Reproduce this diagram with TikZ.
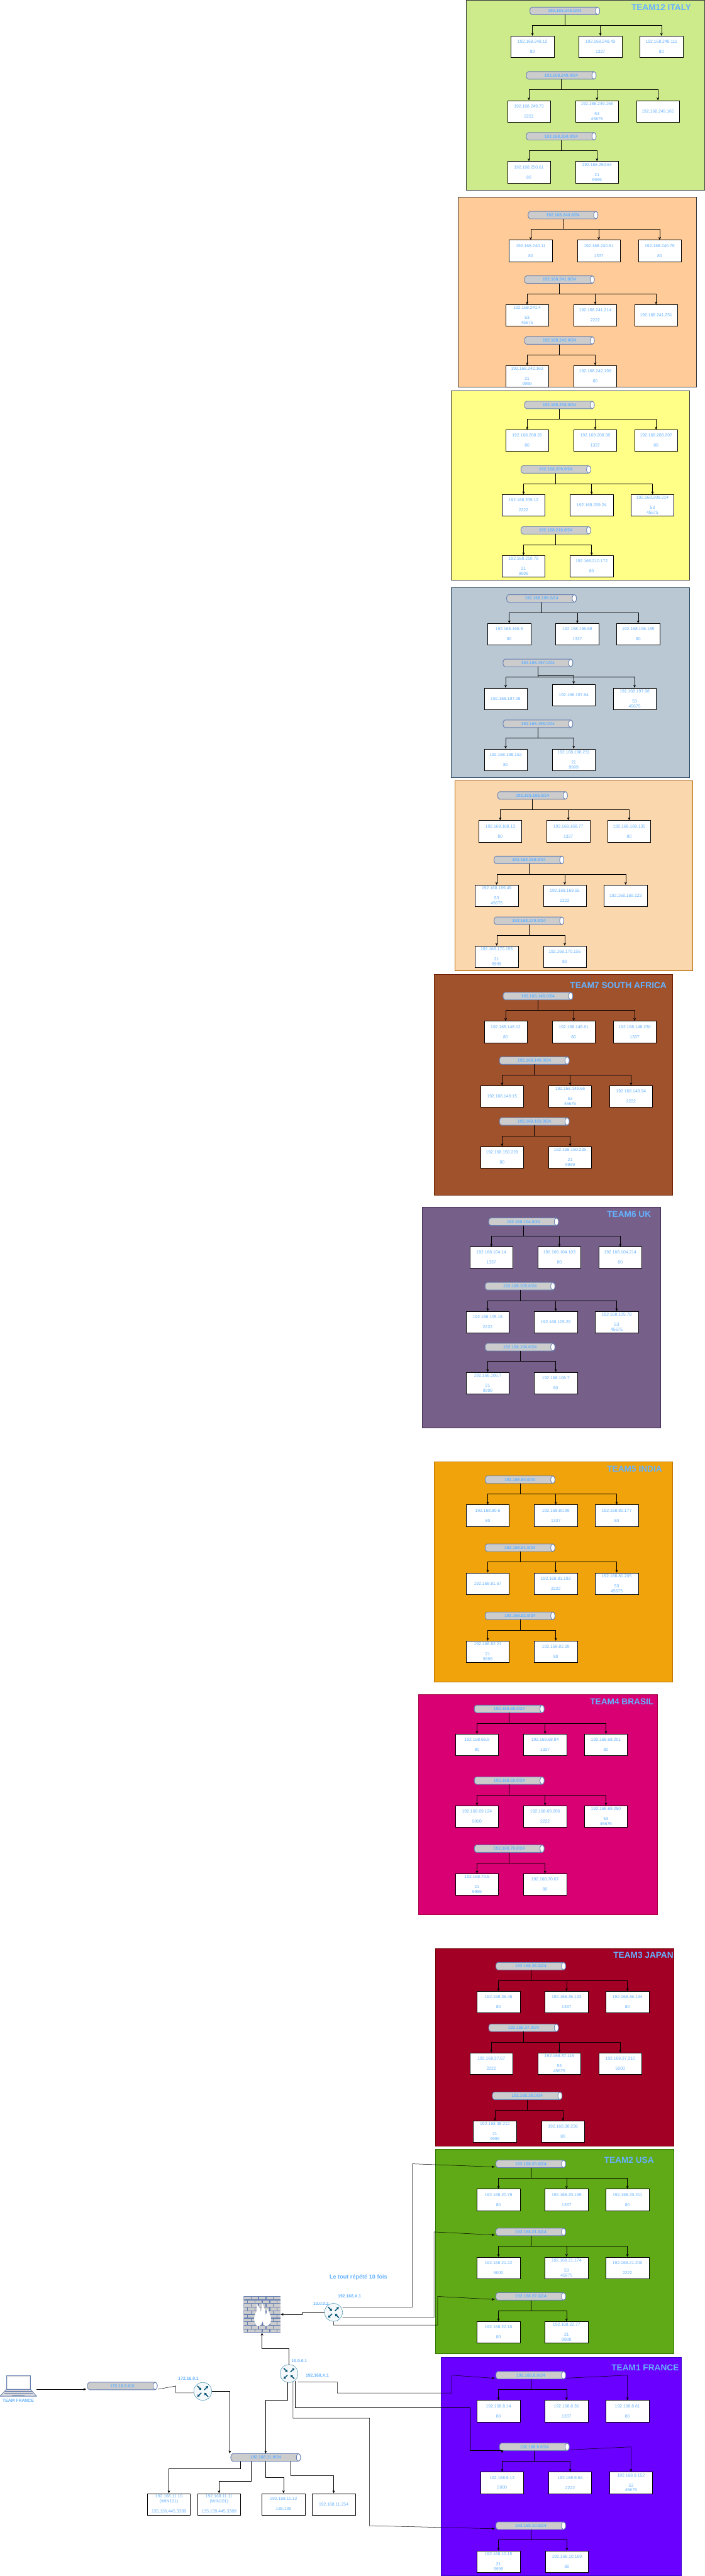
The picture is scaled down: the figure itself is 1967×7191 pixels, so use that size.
\documentclass[tikz,border=0pt]{standalone}
\usepackage{fontspec}
\setmainfont{Liberation Sans}
\usetikzlibrary{arrows.meta}
\definecolor{txt}{HTML}{66B2FF}
\definecolor{pipeline}{HTML}{6881B3}
\definecolor{pipefill}{HTML}{CCCCCC}
\definecolor{routerline}{HTML}{10739E}
\definecolor{routericon}{HTML}{005073}
\tikzset{
 conn/.style={draw=black,line width=.9pt},
 arr/.style={conn,-{Stealth[length=8pt,width=7pt]}},
 hostbox/.style={draw=black,fill=white,line width=.9pt,minimum width=120pt,minimum height=60pt,inner sep=0pt,align=center,text=txt,font=\fontsize{12}{14}\selectfont},
 pipelabel/.style={minimum width=195pt,minimum height=21pt,inner sep=0pt,text=txt,font=\bfseries\fontsize{12}{14}\selectfont},
 title/.style={text=txt,inner sep=0pt,font=\bfseries\fontsize{24}{28}\selectfont},
 addr/.style={text=txt,inner sep=0pt,font=\bfseries\fontsize{12}{14}\selectfont},
 routernode/.style={circle,draw=routerline,fill=white!96!routerline,line width=.7pt,minimum size=50pt,inner sep=0pt},
 routerarrow/.style={draw=routericon,line width=2.6pt,-{Triangle[length=6pt,width=7.5pt]}},
}
\newcommand\panel[6]{\definecolor{pf}{HTML}{#1}\definecolor{ps}{HTML}{#2}\draw[fill=pf,draw=ps,line width=1pt] (#3,#4) rectangle (#5,#6);}
\newcommand\netw[4]{%
 \begin{scope}[shift={(#2,#3)}]
 \draw[fill=pipefill,draw=pipeline,line width=1.6pt] (-91.7,-10.5) -- (91.7,-10.5) .. controls (99.4,-10.5) and (99.4,10.5) .. (91.7,10.5) -- (-91.7,10.5) .. controls (-99.4,10.5) and (-99.4,-10.5) .. (-91.7,-10.5) -- cycle;
 \draw[fill=white,draw=pipeline,line width=1.6pt] (91.7,0) ellipse[x radius=5.8,y radius=10.5];
 \node[pipelabel] (#1) at (0,0) {#4};
 \end{scope}}
\newcommand\hostnode[4]{\node[hostbox] (#1) at (#2,#3+30) {#4};}
\newcommand\host[6][29]{\hostnode{#3}{#4}{#5}{#6}\draw[arr] (#2.south) -- ++(0,#1) -| (#3.north);}
\newcommand\router[3]{%
 \node[routernode] (#1) at (#2,#3) {};
 \begin{scope}[shift={(#2,#3)}]
 \draw[routerarrow] (-15,-15) -- (-4,-4);
 \draw[routerarrow] (4,-4) -- (15,-15);
 \draw[routerarrow] (-4,4) -- (-15,15);
 \draw[routerarrow] (15,15) -- (4,4);
 \end{scope}}
\begin{document}
\begin{tikzpicture}[x=1pt,y=-1pt]
\useasboundingbox (0,0) rectangle (1967,7191);
\fill[white] (0,0) rectangle (1967,7191);
% ---- panels
\panel{CDEB8B}{36393D}{1301}{0}{1966.5}{530}
\panel{FFCC99}{36393D}{1279}{550}{1944}{1080}
\panel{FFFF88}{36393D}{1259}{1090}{1924}{1620}
\panel{BAC8D3}{23445D}{1259}{1640}{1924}{2170}
\panel{FAD7AC}{B46504}{1269}{2180}{1934}{2710}
\panel{A0522D}{6D1F00}{1211.5}{2720}{1876.5}{3335.5}
\panel{76608A}{432D57}{1178.5}{3370}{1844.5}{3985.5}
\panel{F0A30A}{BD7000}{1211.5}{4080}{1876.5}{4695.5}
\panel{D80073}{A50040}{1168.5}{4730.5}{1834.5}{5345}
\panel{A20025}{6F0000}{1216}{5438.5}{1881.5}{5990.5}
\panel{60A917}{2D7600}{1216}{6000}{1881.5}{6570.5}
\panel{6A00FF}{3700CC}{1231.5}{6580}{1901.5}{7190.5}
% ---- titles
\node[title] (tItaly) at (1846,20.7) {TEAM12 ITALY};
\node[title] (tSA) at (1726,2750.6) {TEAM7 SOUTH AFRICA};
\node[title] (tUK) at (1756,3390.5) {TEAM6 UK};
\node[title] (tIndia) at (1771.5,4100.6) {TEAM5 INDIA};
\node[title] (tBrasil) at (1736,4750.5) {TEAM4 BRASIL};
\node[title] (tJapan) at (1796,5458.6) {TEAM3 JAPAN};
\node[title] (tUSA) at (1756,6030.5) {TEAM2 USA};
\node[title] (tFrance) at (1801,6610) {TEAM1 FRANCE};
% ---- ITALY
\netw{n248}{1576.5}{30.5}{192.168.248.0/24}
\host{n248}{h248a}{1486.5}{100.5}{192.168.248.12\\~\\80}
\host{n248}{h248b}{1676}{100.5}{192.168.248.43\\~\\1337}
\host{n248}{h248c}{1846.5}{100.5}{192.168.248.111\\~\\80}
\netw{n249}{1566.5}{210.5}{192.168.249.0/24}
\host{n249}{h249a}{1476.5}{280.5}{192.168.249.73\\~\\2222}
\host{n249}{h249b}{1666.5}{280.5}{192.168.249.156\\~\\53\\45675}
\host{n249}{h249c}{1836.5}{280.5}{192.168.249.165}
\netw{n250}{1566.5}{380.5}{192.168.250.0/24}
\host{n250}{h250a}{1476.5}{450.5}{192.168.250.61\\~\\80}
\host{n250}{h250b}{1666.5}{450.5}{192.168.250.64\\~\\21\\9999}
% ---- orange
\netw{n240}{1571.5}{600.5}{192.168.240.0/24}
\host{n240}{h240a}{1481.5}{670}{192.168.240.11\\~\\80}
\host{n240}{h240b}{1671.5}{670}{192.168.240.61\\~\\1337}
\host{n240}{h240c}{1841.5}{670}{192.168.240.79\\~\\80}
\netw{n241}{1561.5}{780.5}{192.168.241.0/24}
\host{n241}{h241a}{1471.5}{850.5}{192.168.241.4\\~\\53\\45675}
\host{n241}{h241b}{1661.5}{850.5}{192.168.241.214\\~\\2222}
\host{n241}{h241c}{1831.5}{850.5}{192.168.241.251}
\netw{n242}{1561.5}{950.5}{192.168.242.0/24}
\host{n242}{h242a}{1471.5}{1020.5}{192.168.242.163\\~\\21\\9999}
\host{n242}{h242b}{1661.5}{1020.5}{192.168.242.199\\~\\80}
% ---- yellow
\netw{n208}{1561.5}{1130.5}{192.168.208.0/24}
\host{n208}{h208a}{1471.5}{1200}{192.168.208.26\\~\\80}
\host{n208}{h208b}{1661.5}{1200}{192.168.208.38\\~\\1337}
\host{n208}{h208c}{1831.5}{1200}{192.168.208.207\\~\\80}
\netw{n209}{1551.5}{1310.5}{192.168.209.0/24}
\host{n209}{h209a}{1461.5}{1380.5}{192.168.209.12\\~\\2222}
\host{n209}{h209b}{1651.5}{1380.5}{192.168.209.24}
\host{n209}{h209c}{1821.5}{1380.5}{192.168.209.214\\~\\53\\45675}
\netw{n210}{1551.5}{1480.5}{192.168.210.0/24}
\host{n210}{h210a}{1461.5}{1550.5}{192.168.210.79\\~\\21\\9999}
\host{n210}{h210b}{1651.5}{1550.5}{192.168.210.172\\~\\80}
% ---- blue-grey
\netw{n196}{1511.5}{1670.5}{192.168.196.0/24}
\host{n196}{h196a}{1421.5}{1740.5}{192.168.196.9\\~\\80}
\host{n196}{h196b}{1611.5}{1740.5}{192.168.196.68\\~\\1337}
\host{n196}{h196c}{1781.5}{1740.5}{192.168.196.185\\~\\80}
\netw{n197}{1501.5}{1850.5}{192.168.197.0/24}
\host{n197}{h197a}{1411.5}{1920.5}{192.168.197.28}
\host[25]{n197}{h197b}{1601.5}{1910}{192.168.197.64}
\host{n197}{h197c}{1771.5}{1920.5}{192.168.197.98\\~\\53\\45675}
\netw{n198}{1501.5}{2020.5}{192.168.198.0/24}
\host{n198}{h198a}{1411.5}{2090.5}{192.168.198.152\\~\\80}
\host{n198}{h198b}{1601.5}{2090.5}{192.168.198.231\\~\\21\\9999}
% ---- peach
\netw{n168}{1486.5}{2220.5}{192.168.168.0/24}
\host{n168}{h168a}{1396.5}{2290.5}{192.168.168.13\\~\\80}
\host{n168}{h168b}{1586.5}{2290.5}{192.168.168.77\\~\\1337}
\host{n168}{h168c}{1756.5}{2290.5}{192.168.168.135\\~\\80}
\netw{n169}{1476.5}{2400.5}{192.168.169.0/24}
\host{n169}{h169a}{1386.5}{2470.5}{192.168.169.49\\~\\53\\45675}
\host{n169}{h169b}{1576.5}{2470.5}{192.168.169.55\\~\\2222}
\host{n169}{h169c}{1746.5}{2470.5}{192.168.169.123}
\netw{n170}{1476.5}{2570.5}{192.168.170.0/24}
\host{n170}{h170a}{1386.5}{2640.5}{192.168.170.155\\~\\21\\9999}
\host{n170}{h170b}{1576.5}{2640.5}{192.168.170.156\\~\\80}
% ---- brown
\netw{n148}{1501.5}{2780.5}{192.168.148.0/24}
\host{n148}{h148a}{1411.5}{2850.5}{192.168.148.12\\~\\80}
\host{n148}{h148b}{1601.5}{2850.5}{192.168.148.61\\~\\80}
\host{n148}{h148c}{1771.5}{2850.5}{192.168.148.230\\~\\1337}
\netw{n149}{1491.5}{2960.5}{192.168.149.0/24}
\host{n149}{h149a}{1401.5}{3030.5}{192.168.149.15}
\host{n149}{h149b}{1591.5}{3030.5}{192.168.149.66\\~\\53\\45675}
\host{n149}{h149c}{1761.5}{3030.5}{192.168.149.94\\~\\2222}
\netw{n150}{1491.5}{3130.5}{192.168.150.0/24}
\host{n150}{h150a}{1401.5}{3200.5}{192.168.150.229\\~\\80}
\host{n150}{h150b}{1591.5}{3200.5}{192.168.150.235\\~\\21\\9999}
% ---- UK
\netw{n104}{1461.5}{3410.5}{192.168.104.0/24}
\host{n104}{h104a}{1371.5}{3480.5}{192.168.104.14\\~\\1337}
\host{n104}{h104b}{1561.5}{3480.5}{192.168.104.103\\~\\80}
\host{n104}{h104c}{1731.5}{3480.5}{192.168.104.214\\~\\80}
\netw{n105}{1451.5}{3590.5}{192.168.105.0/24}
\host{n105}{h105a}{1361.5}{3660.5}{192.168.105.16\\~\\2222}
\host{n105}{h105b}{1551.5}{3660.5}{192.168.105.29}
\host{n105}{h105c}{1721.5}{3660.5}{192.168.105.78\\~\\53\\45675}
% UNVERIFIED: no crop of this row was available. The network label is inferred from
% the sequence; the host octets could not be read and are marked "?"; the port lines
% are assumed from the layout and the pattern of the other teams.
\netw{n106}{1451.5}{3760.5}{192.168.106.0/24}
\host{n106}{h106a}{1361.5}{3830.5}{192.168.106.?\\~\\21\\9999}
\host{n106}{h106b}{1551.5}{3830.5}{192.168.106.?\\~\\80}
% ---- India
\netw{n80}{1451.5}{4130.5}{192.168.80.0/24}
\host{n80}{h80a}{1361.5}{4200.5}{192.168.80.6\\~\\80}
\host{n80}{h80b}{1551.5}{4200.5}{192.168.80.99\\~\\1337}
\host{n80}{h80c}{1721.5}{4200.5}{192.168.80.177\\~\\80}
\netw{n81}{1451.5}{4320.5}{192.168.81.0/24}
\host{n81}{h81a}{1361.5}{4390.5}{192.168.81.67}
\host{n81}{h81b}{1551.5}{4390.5}{192.168.81.193\\~\\2222}
\host{n81}{h81c}{1721.5}{4390.5}{192.168.81.205\\~\\53\\45675}
\netw{n82}{1451.5}{4510.5}{192.168.82.0/24}
\host{n82}{h82a}{1361.5}{4580.5}{192.168.82.21\\~\\21\\9999}
\host{n82}{h82b}{1551.5}{4580.5}{192.168.82.39\\~\\80}
% ---- Brasil
\netw{n68}{1421.5}{4770.5}{192.168.68.0/24}
\host{n68}{h68a}{1331.5}{4840.5}{192.168.68.9\\~\\80}
\host{n68}{h68b}{1521.5}{4840.5}{192.168.68.84\\~\\1337}
\host{n68}{h68c}{1691.5}{4840.5}{192.168.68.201\\~\\80}
\netw{n69}{1421.5}{4970.5}{192.168.69.0/24}
\host{n69}{h69a}{1331.5}{5040.5}{192.168.69.124\\~\\5000}
\host{n69}{h69b}{1521.5}{5040.5}{192.168.69.206\\~\\2222}
\host{n69}{h69c}{1691.5}{5040.5}{192.168.69.250\\~\\53\\45675}
\netw{n70}{1421.5}{5160.5}{192.168.70.0/24}
\host{n70}{h70a}{1331.5}{5230.5}{192.168.70.5\\~\\21\\9999}
\host{n70}{h70b}{1521.5}{5230.5}{192.168.70.67\\~\\80}
% ---- Japan
\netw{n36}{1481.5}{5488.5}{192.168.36.0/24}
\host{n36}{h36a}{1391.5}{5558.5}{192.168.36.48\\~\\80}
\host{n36}{h36b}{1581.5}{5558.5}{192.168.36.133\\~\\1337}
\host{n36}{h36c}{1751.5}{5558.5}{192.168.36.134\\~\\80}
\netw{n37}{1461.5}{5660.5}{192.168.37.0/24}
\host{n37}{h37a}{1371.5}{5730.5}{192.168.37.67\\~\\2222}
\host{n37}{h37b}{1561.5}{5730.5}{192.168.37.116\\~\\53\\45675}
\host{n37}{h37c}{1731.5}{5730.5}{192.168.37.210\\~\\5000}
\netw{n38}{1471.5}{5850.5}{192.168.38.0/24}
\host{n38}{h38a}{1381.5}{5920.5}{192.168.38.212\\~\\21\\9999}
\host{n38}{h38b}{1571.5}{5920.5}{192.168.38.236\\~\\80}
% ---- USA
\netw{n20}{1481.5}{6040.5}{192.168.20.0/24}
\host{n20}{h20a}{1391.5}{6110.5}{192.168.20.79\\~\\80}
\host{n20}{h20b}{1581.5}{6110.5}{192.168.20.199\\~\\1337}
\host{n20}{h20c}{1751.5}{6110.5}{192.168.20.211\\~\\80}
\netw{n21}{1481.5}{6230.5}{192.168.21.0/24}
\host{n21}{h21a}{1391.5}{6300.5}{192.168.21.22\\~\\5000}
\host{n21}{h21b}{1581.5}{6300.5}{192.168.21.174\\~\\53\\45675}
\host{n21}{h21c}{1751.5}{6300.5}{192.168.21.200\\~\\2222}
\netw{n22}{1481.5}{6410.5}{192.168.22.0/24}
\host{n22}{h22a}{1391.5}{6480.5}{192.168.22.10\\~\\80}
\host{n22}{h22b}{1581.5}{6480.5}{192.168.22.77\\~\\21\\9999}
% ---- France
\netw{n8}{1481.5}{6630.5}{192.168.8.0/24}
\host{n8}{h8a}{1391.5}{6700.5}{192.168.8.14\\~\\80}
\host{n8}{h8b}{1581.5}{6700.5}{192.168.8.36\\~\\1337}
\hostnode{h8c}{1751.5}{6700.5}{192.168.8.61\\~\\80}
\netw{n9}{1491.5}{6830.5}{192.168.9.0/24}
\host{n9}{h9a}{1401.5}{6900.5}{192.168.9.12\\~\\5000}
\host{n9}{h9b}{1591.5}{6900.5}{192.168.9.64\\~\\2222}
\hostnode{h9c}{1761.5}{6900.5}{192.168.9.152\\~\\53\\45675}
\netw{n10}{1481.5}{7050.5}{192.168.10.0/24}
\host{n10}{h10a}{1391.5}{7120.5}{192.168.10.15\\~\\21\\9999}
\host{n10}{h10b}{1582.5}{7120.5}{192.168.10.169\\~\\80}
\draw[arr] ([xshift=3pt,yshift=-8pt]n8.east) -- (1751.5,6630.5) -- (h8c.north);
\draw[arr] ([xshift=3pt,yshift=-8pt]n9.east) -- (1761.5,6830.5) -- (h9c.north);
% ---- firewall
\begin{scope}
\clip (680,6409.6) rectangle (783,6511.6);
\fill[pipeline] (680,6409.6) rectangle (783,6511.6);
\foreach \r in {0,...,9}{
 \foreach \c in {-1,...,5}{
  \pgfmathsetmacro\bx{682+\c*20.6+mod(\r,2)*10.3}
  \pgfmathsetmacro\by{6411+\r*10.2}
  \fill[pipefill] (\bx,\by) rectangle (\bx+18,\by+7.6);
 }}
\end{scope}
\fill[white] (718,6493) .. controls (706,6482) and (708,6465) .. (716,6452) .. controls (718,6447) and (718,6440) .. (716,6432) .. controls (724,6438) and (728,6447) .. (728,6456) .. controls (730,6448) and (732,6438) .. (731,6428) .. controls (737,6440) and (741,6450) .. (742,6462) .. controls (745,6456) and (746,6450) .. (745,6444) .. controls (752,6455) and (760,6470) .. (755,6484) .. controls (752,6490) and (748,6493) .. (742,6493) .. controls (738,6493) and (736,6488) .. (733,6480) .. controls (731,6488) and (726,6494) .. (718,6493) -- cycle;
\node[minimum width=103pt,minimum height=102pt,inner sep=0pt] (fw) at (731.5,6460.6) {};
% ---- laptop
\draw[fill=pipefill!70,draw=pipeline,line width=1.4pt] (17.5,6670) -- (85.5,6670) -- (102,6689) -- (0,6689) -- cycle;
\draw[fill=pipefill!60,draw=pipeline,line width=1.4pt] (17.5,6632) rectangle (85.5,6670);
\fill[white] (21,6636) rectangle (82,6667);
\draw[pipeline,line width=1pt] (14,6675) -- (89,6675) (12,6680) -- (91,6680) (33,6685) -- (68,6685);
\node[inner sep=0pt,minimum width=102pt,minimum height=57pt] (laptop) at (51,6660.5) {};
\node[addr] (lapname) at (51,6702) {TEAM FRANCE};
% ---- routers and core
\netw{n172}{341.5}{6660.5}{172.16.0.0/X}
\netw{n11}{741.5}{6860}{192.168.11.0/24}
\router{r1}{566}{6675.5}
\router{r2}{806.8}{6625.7}
\router{r3}{931}{6455}
\node[addr] (l1) at (526,6640.7) {172.16.0.1};
\node[addr] (l2) at (835.5,6591) {10.0.0.1};
\node[addr] (l3) at (885.7,6631) {192.168.X.1};
\node[addr] (l4) at (896,6430.6) {10.0.0.2};
\node[addr] (l5) at (975.8,6410.8) {192.168.X.1};
\node[text=txt,inner sep=0pt,font=\bfseries\fontsize{16}{19}\selectfont] (l6) at (1000.5,6358) {Le tout répété 10 fois};
% ---- hosts of the core network
\hostnode{h11a}{471.5}{6960.5}{192.168.11.10\\(WIN101)\\~\\135,139,445,3389}
\hostnode{h11b}{611.5}{6960.5}{192.168.11.11\\(WIN101)\\~\\135,139,445,3389}
\hostnode{h11c}{791.5}{6960.5}{192.168.11.12\\~\\135,139}
\hostnode{h11d}{931.5}{6960.5}{192.168.11.254}
\draw[arr] (671.5,6871) -- (671.5,6890.5) -| (h11a.north);
\draw[arr] (701.5,6871) -- (701.5,6925.5) -| (h11b.north);
\draw[arr] (n11.south) -- ++(0,44.5) -| (h11c.north);
\draw[arr] (811.5,6871) -- (811.5,6910.5) -| (h11d.north);
% ---- connectors
\draw[arr] (laptop.east |- 0,6669.5) -- ([xshift=-3pt,yshift=-9pt]n172.west);
\draw[conn] ([xshift=2pt,yshift=-9pt]n172.east) -- (491,6660.5) -- (491,6679.7) -- (r1.west |- 0,6679.7);
\draw[arr] (r1.east) -- (641.5,6675.5) -- (641.5,6849);
\draw[arr] (r2.north) |- (fw.south |- 0,6555.5) -- (fw.south);
\draw[arr] (r3.west) -- (843.5,6455) -- (843.5,6460.6) -- (fw.east);
\draw[arr] (802,6650) -- (802,6700.5) -- (741.5,6700.5) -- (n11.north);
% team links from router 3
\draw[arr] (956,6440.2) -- (1151,6440.2) -- (1151,6040.3) -- ([xshift=-3pt,yshift=-8.4pt]n20.west);
\draw[arr] (956,6470.2) -- (1211.5,6470.2) -- (1211.5,6230.4) -- ([xshift=-3pt,yshift=-8.4pt]n21.west);
\draw[arr] (r3.south) -- (931,6490.5) -- (1221.5,6490.5) -- (1221.5,6410.5) -- ([xshift=-3pt,yshift=-8.4pt]n22.west);
% team links from router 2
\draw[arr] (831.5,6649.7) -- (941.5,6649.7) -- (941.5,6680.3) -- (1261.5,6680.3) -- (1261.5,6630.5) -- ([xshift=-3pt,yshift=-8.4pt]n8.west);
\draw[arr] (824,6646) -- (824,6720.5) -- (1311.5,6720.5) -- (1311.5,6840.5) -- (1401.5,6840.5) -- (1401.5,6848);
\draw[arr] (818,6648) -- (818,6750.5) -- (1031.5,6750.5) -- (1031.5,7050.5) -- ([xshift=-3pt,yshift=-8.4pt]n10.west);
\end{tikzpicture}
\end{document}
